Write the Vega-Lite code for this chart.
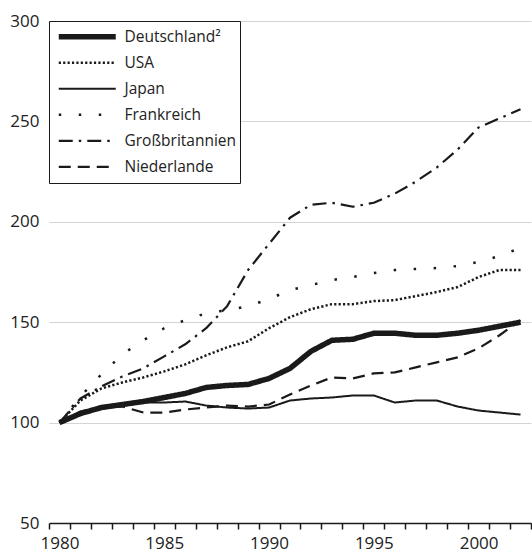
{
  "$schema": "https://vega.github.io/schema/vega-lite/v6.json",
  "width": 482,
  "height": 502,
  "autosize": {"type": "none"},
  "padding": {"left": 49, "top": 21, "right": 1, "bottom": 33},
  "background": "white",
  "config": {"view": {"stroke": null}, "font": "Open Sans"},
  "datasets": {
    "rows": [
      {"Jahr": 1980, "Land": "Deutschland²", "Wert": 100}, {"Jahr": 1981, "Land": "Deutschland²", "Wert": 104.5}, {"Jahr": 1982, "Land": "Deutschland²", "Wert": 107.5}, {"Jahr": 1983, "Land": "Deutschland²", "Wert": 109}, {"Jahr": 1984, "Land": "Deutschland²", "Wert": 110.5}, {"Jahr": 1985, "Land": "Deutschland²", "Wert": 112.5}, {"Jahr": 1986, "Land": "Deutschland²", "Wert": 114.5}, {"Jahr": 1987, "Land": "Deutschland²", "Wert": 117.5}, {"Jahr": 1988, "Land": "Deutschland²", "Wert": 118.5}, {"Jahr": 1989, "Land": "Deutschland²", "Wert": 119}, {"Jahr": 1990, "Land": "Deutschland²", "Wert": 122}, {"Jahr": 1991, "Land": "Deutschland²", "Wert": 127}, {"Jahr": 1992, "Land": "Deutschland²", "Wert": 135.5}, {"Jahr": 1993, "Land": "Deutschland²", "Wert": 141}, {"Jahr": 1994, "Land": "Deutschland²", "Wert": 141.5}, {"Jahr": 1995, "Land": "Deutschland²", "Wert": 144.5}, {"Jahr": 1996, "Land": "Deutschland²", "Wert": 144.5}, {"Jahr": 1997, "Land": "Deutschland²", "Wert": 143.5}, {"Jahr": 1998, "Land": "Deutschland²", "Wert": 143.5}, {"Jahr": 1999, "Land": "Deutschland²", "Wert": 144.5}, {"Jahr": 2000, "Land": "Deutschland²", "Wert": 146}, {"Jahr": 2001, "Land": "Deutschland²", "Wert": 148}, {"Jahr": 2002, "Land": "Deutschland²", "Wert": 150},
      {"Jahr": 1980, "Land": "USA", "Wert": 100}, {"Jahr": 1981, "Land": "USA", "Wert": 111}, {"Jahr": 1982, "Land": "USA", "Wert": 117}, {"Jahr": 1983, "Land": "USA", "Wert": 120}, {"Jahr": 1984, "Land": "USA", "Wert": 122.5}, {"Jahr": 1985, "Land": "USA", "Wert": 125.5}, {"Jahr": 1986, "Land": "USA", "Wert": 129}, {"Jahr": 1987, "Land": "USA", "Wert": 133.5}, {"Jahr": 1988, "Land": "USA", "Wert": 137.5}, {"Jahr": 1989, "Land": "USA", "Wert": 140.5}, {"Jahr": 1990, "Land": "USA", "Wert": 147}, {"Jahr": 1991, "Land": "USA", "Wert": 152.5}, {"Jahr": 1992, "Land": "USA", "Wert": 156.5}, {"Jahr": 1993, "Land": "USA", "Wert": 159}, {"Jahr": 1994, "Land": "USA", "Wert": 159}, {"Jahr": 1995, "Land": "USA", "Wert": 160.5}, {"Jahr": 1996, "Land": "USA", "Wert": 161}, {"Jahr": 1997, "Land": "USA", "Wert": 163}, {"Jahr": 1998, "Land": "USA", "Wert": 165}, {"Jahr": 1999, "Land": "USA", "Wert": 167.5}, {"Jahr": 2000, "Land": "USA", "Wert": 172.5}, {"Jahr": 2001, "Land": "USA", "Wert": 176}, {"Jahr": 2002, "Land": "USA", "Wert": 176},
      {"Jahr": 1980, "Land": "Japan", "Wert": 100}, {"Jahr": 1981, "Land": "Japan", "Wert": 104}, {"Jahr": 1982, "Land": "Japan", "Wert": 107}, {"Jahr": 1983, "Land": "Japan", "Wert": 109}, {"Jahr": 1984, "Land": "Japan", "Wert": 110}, {"Jahr": 1985, "Land": "Japan", "Wert": 110}, {"Jahr": 1986, "Land": "Japan", "Wert": 110.5}, {"Jahr": 1987, "Land": "Japan", "Wert": 108.5}, {"Jahr": 1988, "Land": "Japan", "Wert": 107.5}, {"Jahr": 1989, "Land": "Japan", "Wert": 107}, {"Jahr": 1990, "Land": "Japan", "Wert": 107.5}, {"Jahr": 1991, "Land": "Japan", "Wert": 111}, {"Jahr": 1992, "Land": "Japan", "Wert": 112}, {"Jahr": 1993, "Land": "Japan", "Wert": 112.5}, {"Jahr": 1994, "Land": "Japan", "Wert": 113.5}, {"Jahr": 1995, "Land": "Japan", "Wert": 113.5}, {"Jahr": 1996, "Land": "Japan", "Wert": 110}, {"Jahr": 1997, "Land": "Japan", "Wert": 111}, {"Jahr": 1998, "Land": "Japan", "Wert": 111}, {"Jahr": 1999, "Land": "Japan", "Wert": 108}, {"Jahr": 2000, "Land": "Japan", "Wert": 106}, {"Jahr": 2001, "Land": "Japan", "Wert": 105}, {"Jahr": 2002, "Land": "Japan", "Wert": 104},
      {"Jahr": 1980, "Land": "Frankreich", "Wert": 100}, {"Jahr": 1981, "Land": "Frankreich", "Wert": 113}, {"Jahr": 1982, "Land": "Frankreich", "Wert": 124}, {"Jahr": 1983, "Land": "Frankreich", "Wert": 134}, {"Jahr": 1984, "Land": "Frankreich", "Wert": 141}, {"Jahr": 1985, "Land": "Frankreich", "Wert": 147}, {"Jahr": 1986, "Land": "Frankreich", "Wert": 151}, {"Jahr": 1987, "Land": "Frankreich", "Wert": 154.5}, {"Jahr": 1988, "Land": "Frankreich", "Wert": 156}, {"Jahr": 1989, "Land": "Frankreich", "Wert": 158}, {"Jahr": 1990, "Land": "Frankreich", "Wert": 161.5}, {"Jahr": 1991, "Land": "Frankreich", "Wert": 166}, {"Jahr": 1992, "Land": "Frankreich", "Wert": 168.5}, {"Jahr": 1993, "Land": "Frankreich", "Wert": 171}, {"Jahr": 1994, "Land": "Frankreich", "Wert": 172.5}, {"Jahr": 1995, "Land": "Frankreich", "Wert": 174.5}, {"Jahr": 1996, "Land": "Frankreich", "Wert": 176}, {"Jahr": 1997, "Land": "Frankreich", "Wert": 176.5}, {"Jahr": 1998, "Land": "Frankreich", "Wert": 177}, {"Jahr": 1999, "Land": "Frankreich", "Wert": 178}, {"Jahr": 2000, "Land": "Frankreich", "Wert": 180}, {"Jahr": 2001, "Land": "Frankreich", "Wert": 183}, {"Jahr": 2002, "Land": "Frankreich", "Wert": 187},
      {"Jahr": 1980, "Land": "Großbritannien", "Wert": 100}, {"Jahr": 1981, "Land": "Großbritannien", "Wert": 112}, {"Jahr": 1982, "Land": "Großbritannien", "Wert": 118}, {"Jahr": 1983, "Land": "Großbritannien", "Wert": 123}, {"Jahr": 1984, "Land": "Großbritannien", "Wert": 127}, {"Jahr": 1985, "Land": "Großbritannien", "Wert": 133}, {"Jahr": 1986, "Land": "Großbritannien", "Wert": 139}, {"Jahr": 1987, "Land": "Großbritannien", "Wert": 147}, {"Jahr": 1988, "Land": "Großbritannien", "Wert": 158}, {"Jahr": 1989, "Land": "Großbritannien", "Wert": 176}, {"Jahr": 1990, "Land": "Großbritannien", "Wert": 189}, {"Jahr": 1991, "Land": "Großbritannien", "Wert": 202}, {"Jahr": 1992, "Land": "Großbritannien", "Wert": 208.5}, {"Jahr": 1993, "Land": "Großbritannien", "Wert": 209.5}, {"Jahr": 1994, "Land": "Großbritannien", "Wert": 207.5}, {"Jahr": 1995, "Land": "Großbritannien", "Wert": 209.5}, {"Jahr": 1996, "Land": "Großbritannien", "Wert": 214}, {"Jahr": 1997, "Land": "Großbritannien", "Wert": 220}, {"Jahr": 1998, "Land": "Großbritannien", "Wert": 227}, {"Jahr": 1999, "Land": "Großbritannien", "Wert": 236}, {"Jahr": 2000, "Land": "Großbritannien", "Wert": 247}, {"Jahr": 2001, "Land": "Großbritannien", "Wert": 251.5}, {"Jahr": 2002, "Land": "Großbritannien", "Wert": 256},
      {"Jahr": 1980, "Land": "Niederlande", "Wert": 100}, {"Jahr": 1981, "Land": "Niederlande", "Wert": 105.5}, {"Jahr": 1982, "Land": "Niederlande", "Wert": 108}, {"Jahr": 1983, "Land": "Niederlande", "Wert": 108}, {"Jahr": 1984, "Land": "Niederlande", "Wert": 105}, {"Jahr": 1985, "Land": "Niederlande", "Wert": 105}, {"Jahr": 1986, "Land": "Niederlande", "Wert": 106.5}, {"Jahr": 1987, "Land": "Niederlande", "Wert": 107.5}, {"Jahr": 1988, "Land": "Niederlande", "Wert": 108.5}, {"Jahr": 1989, "Land": "Niederlande", "Wert": 108}, {"Jahr": 1990, "Land": "Niederlande", "Wert": 109}, {"Jahr": 1991, "Land": "Niederlande", "Wert": 114}, {"Jahr": 1992, "Land": "Niederlande", "Wert": 118.5}, {"Jahr": 1993, "Land": "Niederlande", "Wert": 122.5}, {"Jahr": 1994, "Land": "Niederlande", "Wert": 122}, {"Jahr": 1995, "Land": "Niederlande", "Wert": 124.5}, {"Jahr": 1996, "Land": "Niederlande", "Wert": 125}, {"Jahr": 1997, "Land": "Niederlande", "Wert": 127.5}, {"Jahr": 1998, "Land": "Niederlande", "Wert": 130}, {"Jahr": 1999, "Land": "Niederlande", "Wert": 132.5}, {"Jahr": 2000, "Land": "Niederlande", "Wert": 137}, {"Jahr": 2001, "Land": "Niederlande", "Wert": 143.5}, {"Jahr": 2002, "Land": "Niederlande", "Wert": 151}
    ]
  },
  "data": {"name": "rows"},
  "mark": {"type": "line", "strokeJoin": "round"},
  "encoding": {
    "x": {
      "field": "Jahr", "type": "quantitative",
      "scale": {"domain": [1979.5, 2002.5], "nice": false, "zero": false},
      "axis": {
        "title": null,
        "values": [1979.5, 1980.5, 1981.5, 1982.5, 1983.5, 1984.5, 1985.5, 1986.5, 1987.5, 1988.5, 1989.5, 1990.5, 1991.5, 1992.5, 1993.5, 1994.5, 1995.5, 1996.5, 1997.5, 1998.5, 1999.5, 2000.5, 2001.5, 2002.5],
        "labelExpr": "(datum.value + 0.5) % 5 == 0 ? format(datum.value + 0.5, 'd') : ''",
        "labelOffset": 10.48,
        "labelOverlap": false,
        "labelFlush": false,
        "grid": false,
        "domainColor": "#1a1a1a",
        "domainWidth": 1.5,
        "tickColor": "#1a1a1a",
        "tickWidth": 1.5,
        "tickSize": 6,
        "labelFontSize": 17,
        "labelColor": "#222222",
        "labelPadding": 6
      }
    },
    "y": {
      "field": "Wert", "type": "quantitative",
      "scale": {"domain": [50, 300], "nice": false, "zero": false},
      "axis": {
        "title": null,
        "values": [50, 100, 150, 200, 250, 300],
        "domain": false,
        "ticks": false,
        "tickSize": 0,
        "labelPadding": 10,
        "gridColor": "#d4d4d4",
        "gridWidth": 1.2,
        "labelFontSize": 17,
        "labelColor": "#222222"
      }
    },
    "color": {
      "field": "Land", "type": "nominal",
      "scale": {"domain": ["Deutschland²", "USA", "Japan", "Frankreich", "Großbritannien", "Niederlande"], "range": ["#1a1a1a", "#1a1a1a", "#1a1a1a", "#1a1a1a", "#1a1a1a", "#1a1a1a"]},
      "legend": {
        "title": null, "orient": "none", "legendX": 0, "legendY": 0,
        "strokeColor": "#1a1a1a", "fillColor": "white", "padding": 3,
        "symbolType": "M-14.25,0H14.25", "symbolSize": 16, "symbolOffset": 27.5,
        "labelOffset": 29.5, "clipHeight": 25.7, "rowPadding": 0,
        "labelFontSize": 15.5, "labelColor": "#222222", "labelLimit": 0,
        "labelExpr": "datum.label + '  '",
        "encode": {"symbols": {"update": {"strokeDash": {"signal": "datum.value === 'Frankreich' ? [2.5, 7.5] : datum.value === 'Großbritannien' ? [19, 8, 2.5, 8] : datum.value === 'Niederlande' ? [15, 6.5] : datum.value === 'USA' ? [2.2, 2.6] : [1, 0]"}}}}
      }
    },
    "strokeDash": {
      "field": "Land", "type": "nominal",
      "scale": {"domain": ["Deutschland²", "USA", "Japan", "Frankreich", "Großbritannien", "Niederlande"], "range": [[1, 0], [2.2, 2.2], [1, 0], [2.5, 17.5], [14, 6, 2.5, 6], [12, 7]]},
      "legend": {
        "title": null, "orient": "none", "legendX": 0, "legendY": 0,
        "strokeColor": "#1a1a1a", "fillColor": "white", "padding": 3,
        "symbolType": "M-14.25,0H14.25", "symbolSize": 16, "symbolOffset": 27.5,
        "labelOffset": 29.5, "clipHeight": 25.7, "rowPadding": 0,
        "labelFontSize": 15.5, "labelColor": "#222222", "labelLimit": 0,
        "labelExpr": "datum.label + '  '"
      }
    },
    "strokeWidth": {
      "field": "Land", "type": "nominal",
      "scale": {"type": "ordinal", "domain": ["Deutschland²", "USA", "Japan", "Frankreich", "Großbritannien", "Niederlande"], "range": [5.5, 2.5, 2, 2.5, 2.2, 2.2]},
      "legend": {
        "title": null, "orient": "none", "legendX": 0, "legendY": 0,
        "strokeColor": "#1a1a1a", "fillColor": "white", "padding": 3,
        "symbolType": "M-14.25,0H14.25", "symbolSize": 16, "symbolOffset": 27.5,
        "labelOffset": 29.5, "clipHeight": 25.7, "rowPadding": 0,
        "labelFontSize": 15.5, "labelColor": "#222222", "labelLimit": 0,
        "labelExpr": "datum.label + '  '"
      }
    }
  }
}
